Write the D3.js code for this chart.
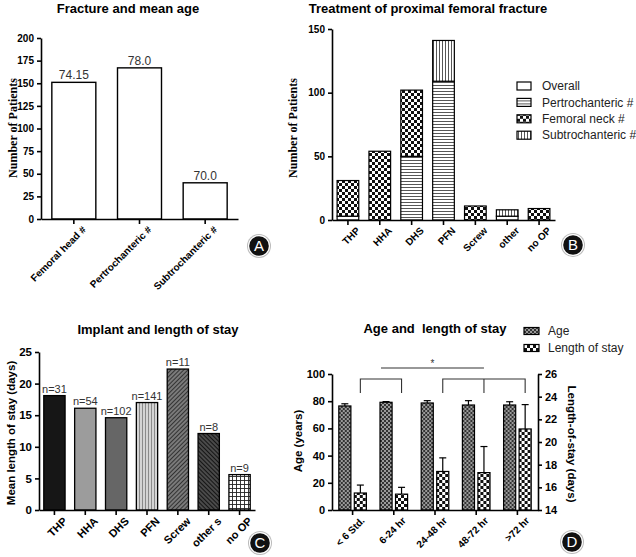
<!DOCTYPE html>
<html>
<head>
<meta charset="utf-8">
<script src="https://cdn.jsdelivr.net/npm/d3@7"></script>
<style>
  body { margin: 0; background: #fff; }
  svg { display: block; font-family: "Liberation Sans", Arial, sans-serif; }
  .axis path, .axis line { stroke: #000; stroke-width: 1.6; }
  .axis text { font-size: 10px; font-weight: bold; fill: #000; }
  .title { font-size: 13px; font-weight: bold; text-anchor: middle; white-space: pre; }
</style>
</head>
<body>
<div id="chart"></div>
<script>
// panel A - fracture types
var fractureTypes = ["Femoral head #", "Pertrochanteric #", "Subtrochanteric #"];
var fractureCounts = [151, 167, 40];
var fractureMeanAge = ["74.15", "78.0", "70.0"];

// panel B - treatment, stacked by fracture
var treatments = ["THP", "HHA", "DHS", "PFN", "Screw", "other", "no OP"];
var overallPart = [3, 0, 0, 0, 0, 3, 0];
var pertroPart = [0, 0, 50, 109, 0, 0, 0];
var neckPart = [28, 54, 52, 0, 11, 0, 9];
var subtrochPart = [0, 0, 0, 32, 0, 5, 0];
var stackNames = ["Overall", "Pertrochanteric #", "Femoral neck #", "Subtrochanteric #"];

// panel C - implant and length of stay
var implants = ["THP", "HHA", "DHS", "PFN", "Screw", "other s", "no OP"];
var meanStay = [18.1, 16.1, 14.6, 17.0, 22.3, 12.1, 5.6];
var implantN = ["n=31", "n=54", "n=102", "n=141", "n=11", "n=8", "n=9"];

// panel D - age and length of stay by time to surgery
var timeGroups = ["< 6 Std.", "6-24 hr", "24-48 hr", "48-72 hr", ">72 hr"];
var ageMean = [76.5, 79.2, 78.7, 77.2, 77.2];
var ageSD = [1.6, 0.5, 1.7, 3.2, 2.4];
var stayMean = [15.5, 15.4, 17.4, 17.3, 21.15];
var staySD = [0.7, 0.6, 1.2, 2.3, 2.15];

var svg = d3.select("#chart").append("svg")
    .attr("width", 636)
    .attr("height", 557);

svg.append("rect").attr("width", 636).attr("height", 557).attr("fill", "#fff");

// fill patterns
var defs = svg.append("defs");
function pattern(id, w, h, bg, rotate) {
    var p = defs.append("pattern")
        .attr("id", id)
        .attr("patternUnits", "userSpaceOnUse")
        .attr("width", w)
        .attr("height", h);
    if (rotate) p.attr("patternTransform", "rotate(" + rotate + ")");
    p.append("rect").attr("width", w).attr("height", h).attr("fill", bg);
    return p;
}
pattern("hlines", 3, 3, "#fff").append("line")
    .attr("x1", 0).attr("x2", 3).attr("y1", 1.5).attr("y2", 1.5)
    .attr("stroke", "#444").attr("stroke-width", 0.9);
pattern("vlines", 3, 3, "#fff").append("line")
    .attr("y1", 0).attr("y2", 3).attr("x1", 1.5).attr("x2", 1.5)
    .attr("stroke", "#444").attr("stroke-width", 0.9);
var chk = pattern("checker", 6, 6, "#fff");
chk.append("rect").attr("width", 3).attr("height", 3).attr("fill", "#111");
chk.append("rect").attr("x", 3).attr("y", 3).attr("width", 3).attr("height", 3).attr("fill", "#111");
pattern("pfnC", 3, 3, "#d4d4d4").append("line")
    .attr("y1", 0).attr("y2", 3).attr("x1", 1.5).attr("x2", 1.5)
    .attr("stroke", "#777").attr("stroke-width", 0.8);
pattern("screwC", 3, 3, "#7a7a7a", 45).append("line")
    .attr("y1", 0).attr("y2", 3).attr("x1", 1.5).attr("x2", 1.5)
    .attr("stroke", "#333").attr("stroke-width", 1);
pattern("othersC", 3, 3, "#4a4a4a", -45).append("line")
    .attr("y1", 0).attr("y2", 3).attr("x1", 1.5).attr("x2", 1.5)
    .attr("stroke", "#151515").attr("stroke-width", 1);
var grid = pattern("gridC", 4, 4, "#fff");
grid.append("line").attr("x1", 0).attr("x2", 4).attr("y1", 0.5).attr("y2", 0.5).attr("stroke", "#222").attr("stroke-width", 0.9);
grid.append("line").attr("y1", 0).attr("y2", 4).attr("x1", 0.5).attr("x2", 0.5).attr("stroke", "#222").attr("stroke-width", 0.9);
var ageP = pattern("ageD", 4, 4, "#9a9a9a");
ageP.append("rect").attr("width", 2).attr("height", 2).attr("fill", "#333");
ageP.append("rect").attr("x", 2).attr("y", 2).attr("width", 2).attr("height", 2).attr("fill", "#333");

function badge(x, y, letter) {
    var g = svg.append("g").attr("transform", "translate(" + x + "," + y + ")");
    g.append("circle").attr("r", 12).attr("fill", "#bbb");
    g.append("circle").attr("r", 11).attr("fill", "#fff");
    g.append("circle").attr("r", 9.8).attr("fill", "#111");
    g.append("text").attr("text-anchor", "middle").attr("dy", "0.36em")
        .attr("fill", "#fff").style("font-size", "15px").text(letter);
}

function rotateLabels(axisG) {
    axisG.selectAll(".tick text")
        .attr("text-anchor", "end")
        .attr("dx", "0.1em")
        .attr("dy", "0.9em")
        .attr("transform", "rotate(-45)");
}

// ---------- A ----------
var xA = d3.scaleBand().domain(fractureTypes).range([41, 238]).paddingInner(0.33).paddingOuter(0.165);
var yA = d3.scaleLinear().domain([0, 200]).range([219, 38]);

svg.append("text").attr("class", "title").attr("x", 128).attr("y", 13).text("Fracture and mean age");

svg.selectAll(".barA")
    .data(fractureCounts)
    .enter().append("rect")
    .attr("x", function(d, i) { return xA(fractureTypes[i]); })
    .attr("y", function(d) { return yA(d); })
    .attr("width", xA.bandwidth())
    .attr("height", function(d) { return yA(0) - yA(d); })
    .attr("fill", "#fff").attr("stroke", "#000").attr("stroke-width", 1.4);

svg.selectAll(".labA")
    .data(fractureMeanAge)
    .enter().append("text")
    .attr("x", function(d, i) { return xA(fractureTypes[i]) + xA.bandwidth() / 2; })
    .attr("y", function(d, i) { return yA(fractureCounts[i]) - 3; })
    .attr("text-anchor", "middle")
    .style("font-size", "12px").attr("fill", "#333")
    .text(function(d) { return d; });

svg.append("g").attr("class", "axis")
    .attr("transform", "translate(41,0)")
    .call(d3.axisLeft(yA).tickValues(d3.range(0, 201, 25)).tickSize(4).tickSizeOuter(0));
var axA = svg.append("g").attr("class", "axis")
    .attr("transform", "translate(0,219)")
    .call(d3.axisBottom(xA).tickSize(5).tickSizeOuter(0));
rotateLabels(axA);

svg.append("text")
    .attr("transform", "translate(17,128) rotate(-90)")
    .attr("text-anchor", "middle")
    .style("font-family", "'Liberation Serif', 'Times New Roman', serif")
    .style("font-size", "12px").style("font-weight", "bold")
    .text("Number of Patients");

badge(259, 246, "A");

// ---------- B ----------
var xB = d3.scaleBand().domain(treatments).range([332, 555]).paddingInner(0.32).paddingOuter(0.16);
var yB = d3.scaleLinear().domain([0, 150]).range([220, 29]);
var fillsB = ["#fff", "url(#hlines)", "url(#checker)", "url(#vlines)"];

var tableB = treatments.map(function(t, i) {
    return { name: t, "Overall": overallPart[i], "Pertrochanteric #": pertroPart[i],
             "Femoral neck #": neckPart[i], "Subtrochanteric #": subtrochPart[i] };
});
var stacked = d3.stack().keys(stackNames)(tableB);

svg.append("text").attr("class", "title").attr("x", 428).attr("y", 13).text("Treatment of proximal femoral fracture");

svg.selectAll(".layerB")
    .data(stacked)
    .enter().append("g")
    .attr("fill", function(d, i) { return fillsB[i]; })
    .selectAll("rect")
    .data(function(d) { return d.filter(function(s) { return s[1] > s[0]; }); })
    .enter().append("rect")
    .attr("x", function(d) { return xB(d.data.name); })
    .attr("y", function(d) { return yB(d[1]); })
    .attr("width", xB.bandwidth())
    .attr("height", function(d) { return yB(d[0]) - yB(d[1]); })
    .attr("stroke", "#000").attr("stroke-width", 1.2);

svg.append("g").attr("class", "axis")
    .attr("transform", "translate(332,0)")
    .call(d3.axisLeft(yB).tickValues([0, 50, 100, 150]).tickSize(4).tickSizeOuter(0));
var axB = svg.append("g").attr("class", "axis")
    .attr("transform", "translate(0,220)")
    .call(d3.axisBottom(xB).tickSize(5).tickSizeOuter(0));
rotateLabels(axB);

svg.append("text")
    .attr("transform", "translate(297,128) rotate(-90)")
    .attr("text-anchor", "middle")
    .style("font-family", "'Liberation Serif', 'Times New Roman', serif")
    .style("font-size", "12px").style("font-weight", "bold")
    .text("Number of Patients");

var legB = svg.selectAll(".legB")
    .data(stackNames)
    .enter().append("g")
    .attr("transform", function(d, i) { return "translate(517," + (86 + i * 16.4) + ")"; });
legB.append("rect").attr("y", -4).attr("width", 14).attr("height", 8)
    .attr("fill", function(d, i) { return fillsB[i]; })
    .attr("stroke", "#000").attr("stroke-width", 1.2);
legB.append("text").attr("x", 25).attr("dy", "0.35em")
    .style("font-size", "12px").attr("fill", "#222")
    .text(function(d) { return d; });

badge(573, 245, "B");

// ---------- C ----------
var xC = d3.scaleBand().domain(implants).range([39, 255]).paddingInner(0.31).paddingOuter(0.155);
var yC = d3.scaleLinear().domain([0, 25]).range([510, 352]);
var fillsC = ["#161616", "#9c9c9c", "#666", "url(#pfnC)", "url(#screwC)", "url(#othersC)", "url(#gridC)"];

svg.append("text").attr("class", "title").attr("x", 158).attr("y", 334).text("Implant and length of stay");

svg.selectAll(".barC")
    .data(meanStay)
    .enter().append("rect")
    .attr("x", function(d, i) { return xC(implants[i]); })
    .attr("y", function(d) { return yC(d); })
    .attr("width", xC.bandwidth())
    .attr("height", function(d) { return yC(0) - yC(d); })
    .attr("fill", function(d, i) { return fillsC[i]; })
    .attr("stroke", "#000").attr("stroke-width", 1.3);

svg.selectAll(".labC")
    .data(implantN)
    .enter().append("text")
    .attr("x", function(d, i) { return xC(implants[i]) + xC.bandwidth() / 2; })
    .attr("y", function(d, i) { return yC(meanStay[i]) - 3; })
    .attr("text-anchor", "middle")
    .style("font-size", "11px").attr("fill", "#333")
    .text(function(d) { return d; });

svg.append("g").attr("class", "axis")
    .attr("transform", "translate(39,0)")
    .call(d3.axisLeft(yC).tickValues([0, 5, 10, 15, 20, 25]).tickSize(4).tickSizeOuter(0))
    .selectAll("text").style("font-size", "11.5px");
var axC = svg.append("g").attr("class", "axis")
    .attr("transform", "translate(0,510)")
    .call(d3.axisBottom(xC).tickSize(5).tickSizeOuter(0));
rotateLabels(axC);
axC.selectAll("text").style("font-size", "11px");

svg.append("text")
    .attr("transform", "translate(15,433) rotate(-90)")
    .attr("text-anchor", "middle")
    .style("font-size", "11.5px").style("font-weight", "bold")
    .text("Mean length of stay (days)");

badge(260, 543, "C");

// ---------- D ----------
var xD = d3.scaleBand().domain(timeGroups).range([332, 538]).paddingInner(0.33).paddingOuter(0.165);
var xSub = d3.scaleBand().domain(["age", "stay"]).range([0, xD.bandwidth()]).paddingInner(0.22);
var yDL = d3.scaleLinear().domain([0, 100]).range([510, 374]);
var yDR = d3.scaleLinear().domain([14, 26]).range([510, 374]);

svg.append("text").attr("class", "title").attr("x", 435).attr("y", 333).text("Age and  length of stay");

var groupsD = svg.selectAll(".grpD")
    .data(timeGroups)
    .enter().append("g")
    .attr("transform", function(d) { return "translate(" + xD(d) + ",0)"; });

function drawBars(key, means, sds, scale, fill) {
    groupsD.append("line")
        .attr("x1", xSub(key) + xSub.bandwidth() / 2)
        .attr("x2", xSub(key) + xSub.bandwidth() / 2)
        .attr("y1", function(d, i) { return scale(means[i]); })
        .attr("y2", function(d, i) { return scale(means[i] + sds[i]); })
        .attr("stroke", "#000").attr("stroke-width", 1.2);
    groupsD.append("line")
        .attr("x1", xSub(key) + xSub.bandwidth() / 2 - 3.5)
        .attr("x2", xSub(key) + xSub.bandwidth() / 2 + 3.5)
        .attr("y1", function(d, i) { return scale(means[i] + sds[i]); })
        .attr("y2", function(d, i) { return scale(means[i] + sds[i]); })
        .attr("stroke", "#000").attr("stroke-width", 1.2);
    groupsD.append("rect")
        .attr("x", xSub(key))
        .attr("y", function(d, i) { return scale(means[i]); })
        .attr("width", xSub.bandwidth())
        .attr("height", function(d, i) { return scale.range()[0] - scale(means[i]); })
        .attr("fill", fill)
        .attr("stroke", "#000").attr("stroke-width", 1.2);
}
drawBars("age", ageMean, ageSD, yDL, "url(#ageD)");
drawBars("stay", stayMean, staySD, yDR, "url(#checker)");

// significance brackets between length-of-stay bars
function stayX(i) { return xD(timeGroups[i]) + xSub("stay") + xSub.bandwidth() / 2; }
var brTop = yDL(100) + 5, brLeg = yDL(100) + 19, starLine = yDL(100) - 6;
var br = svg.append("g").attr("fill", "none").attr("stroke", "#333").attr("stroke-width", 1.1);
br.append("path").attr("d", d3.line()([[stayX(0), brLeg], [stayX(0), brTop], [stayX(1), brTop], [stayX(1), brLeg]]));
br.append("path").attr("d", d3.line()([[stayX(2), brLeg], [stayX(2), brTop], [stayX(4), brTop], [stayX(4), brLeg]]));
br.append("line").attr("x1", stayX(3)).attr("x2", stayX(3)).attr("y1", brTop).attr("y2", brLeg);
var starX1 = (stayX(0) + stayX(1)) / 2, starX2 = stayX(3);
br.append("line").attr("x1", starX1).attr("x2", starX2).attr("y1", starLine).attr("y2", starLine);
svg.append("text").attr("x", (starX1 + starX2) / 2).attr("y", starLine - 1)
    .attr("text-anchor", "middle").style("font-size", "10px").attr("fill", "#333").text("*");

svg.append("g").attr("class", "axis")
    .attr("transform", "translate(332,0)")
    .call(d3.axisLeft(yDL).tickValues([0, 20, 40, 60, 80, 100]).tickSize(4).tickSizeOuter(0))
    .selectAll("text").style("font-size", "11px");
svg.append("g").attr("class", "axis")
    .attr("transform", "translate(538,0)")
    .call(d3.axisRight(yDR).tickValues(d3.range(14, 27, 2)).tickSize(4).tickSizeOuter(0))
    .selectAll("text").style("font-size", "11px");
var axD = svg.append("g").attr("class", "axis")
    .attr("transform", "translate(0,510)")
    .call(d3.axisBottom(xD).tickSize(5).tickSizeOuter(0));
rotateLabels(axD);

svg.append("text")
    .attr("transform", "translate(302,441) rotate(-90)")
    .attr("text-anchor", "middle")
    .style("font-size", "11.5px").style("font-weight", "bold")
    .text("Age (years)");
svg.append("text")
    .attr("transform", "translate(568,444) rotate(90)")
    .attr("text-anchor", "middle")
    .style("font-size", "11.5px").style("font-weight", "bold")
    .text("Length-of-stay (days)");

var legD = svg.selectAll(".legD")
    .data(["Age", "Length of stay"])
    .enter().append("g")
    .attr("transform", function(d, i) { return "translate(524," + (331 + i * 17) + ")"; });
legD.append("rect").attr("y", -3.5).attr("width", 15).attr("height", 7)
    .attr("fill", function(d, i) { return i ? "url(#checker)" : "url(#ageD)"; })
    .attr("stroke", "#000").attr("stroke-width", 1.2);
legD.append("text").attr("x", 24).attr("dy", "0.35em")
    .style("font-size", "12px").attr("fill", "#222")
    .text(function(d) { return d; });

badge(572, 542, "D");
</script>
</body>
</html>
